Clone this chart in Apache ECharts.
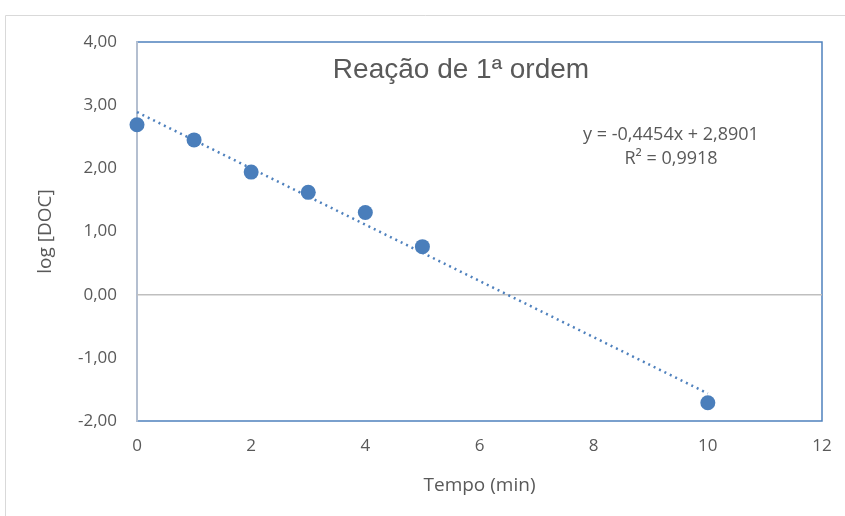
<!DOCTYPE html>
<html><head><meta charset="utf-8">
<script src="https://cdn.jsdelivr.net/npm/echarts@6/dist/echarts.min.js"></script>
<style>html,body{margin:0;padding:0;background:#fff}#c{width:845px;height:516px}</style>
</head><body><div id="c"></div>
<script>
const tempo = [0, 1, 2, 3, 4, 5, 10];
const logDOC = [2.69, 2.45, 1.94, 1.62, 1.30, 0.76, -1.71];
const trendX = [0, 10];
const trendY = [2.8901, -1.5639];
const titleText = 'Reação de 1ª ordem';
const eqLines = ['y = -0,4454x + 2,8901', 'R² = 0,9918'];

const fmt = v => v.toFixed(2).replace('.', ',');
const chart = echarts.init(document.getElementById('c'));
const FONT = 'Open Sans, Liberation Sans, sans-serif';
const lbl = {color:'#595959', fontFamily:FONT, fontSize:17};
chart.setOption({
  animation:false,
  title:{text:titleText, left:456, top:51, textAlign:'center',
    textStyle:{color:'#595959', fontSize:28, fontWeight:'normal', fontFamily:'Liberation Sans, Arial, sans-serif'}},
  graphic:[
    {type:'rect', shape:{x:5.5,y:15.5,width:860,height:520}, style:{fill:'none', stroke:'#d9d9d9', lineWidth:1}},
    {type:'text', x:671, y:123, style:{text:eqLines[0]+'\n'+eqLines[1], textAlign:'center', fill:'#595959', font:'18px '+FONT, lineHeight:24}}
  ],
  grid:{left:137, right:23, top:42, bottom:95, show:true, borderColor:'#4f81bd', borderWidth:1.5},
  xAxis:{type:'value', min:0, max:12, interval:2,
    name:'Tempo (min)', nameLocation:'middle', nameGap:55,
    nameTextStyle:{...lbl, fontSize:19},
    axisLine:{show:false}, axisTick:{show:false}, splitLine:{show:false},
    axisLabel:{...lbl, margin:17}},
  yAxis:{type:'value', min:-2, max:4, interval:1,
    name:'log [DOC]', nameLocation:'middle', nameGap:82, nameRotate:90,
    nameTextStyle:{...lbl, fontSize:19},
    axisLine:{show:true, onZero:false, lineStyle:{color:'#b4bfd0', width:2}}, axisTick:{show:false}, splitLine:{show:false},
    axisLabel:{...lbl, margin:20, formatter:fmt}},
  series:[
    {type:'line', data:[[0,0],[12,0]], showSymbol:false, symbol:'none', lineStyle:{color:'#bfbfbf', width:1.5}, silent:true, z:1},
    {type:'line', data:trendX.map((x,i)=>[x,trendY[i]]), symbol:'none', lineStyle:{color:'#4f81bd', width:2.5, type:[2,4]}, z:2},
    {type:'scatter', data:tempo.map((x,i)=>[x,logDOC[i]]), symbolSize:15, itemStyle:{color:'#4a7ebb', opacity:1}, z:3}
  ]
});
</script></body></html>
